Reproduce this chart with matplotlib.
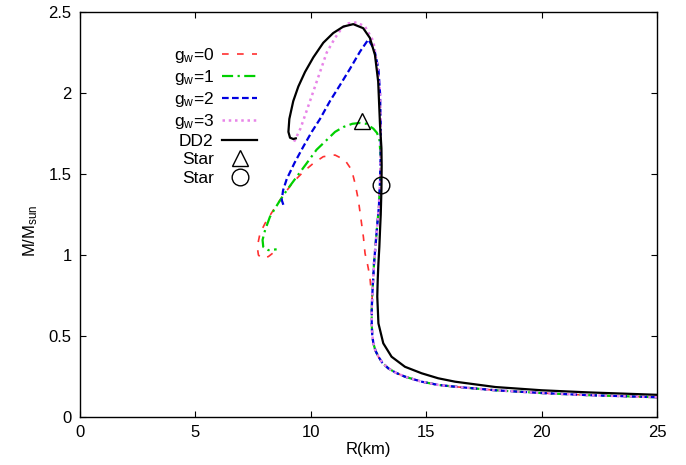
## Import necessary libraries
import matplotlib
matplotlib.use('Agg')
import matplotlib.pyplot as plt

plt.rcParams['font.family'] = ['Liberation Sans', 'DejaVu Sans']
plt.rcParams['mathtext.fontset'] = 'custom'
plt.rcParams['mathtext.rm'] = 'Liberation Sans'
plt.rcParams['mathtext.it'] = 'Liberation Sans'
plt.rcParams['mathtext.default'] = 'regular'

## Mass-radius curves (R in km, M in Msun)
## shared low-mass tail of the four g_w curves
r_tail = [25, 22, 20, 18, 16.25, 15.52, 14.8, 14.08, 13.7, 13.36, 13.1, 12.93,
          12.8, 12.71, 12.66, 12.64, 12.64, 12.66]
m_tail = [0.122, 0.135, 0.148, 0.165, 0.187, 0.198, 0.218, 0.249, 0.272, 0.30,
          0.335, 0.372, 0.41, 0.455, 0.51, 0.578, 0.66, 0.743]

r_g0 = r_tail + [12.6, 12.56, 12.46, 12.35, 12.28, 12.16, 12.06, 11.92, 11.77,
                 11.48, 11.05, 10.54, 10.11, 9.68, 9.24, 8.81, 8.38, 8.02, 7.8,
                 7.68, 7.73, 7.87, 8.16, 8.52]
m_g0 = m_tail + [0.8, 0.866, 0.94, 1.01, 1.11, 1.236, 1.34, 1.44, 1.525,
                 1.586, 1.617, 1.607, 1.566, 1.514, 1.45, 1.37, 1.278, 1.196, 1.134,
                 1.05, 1.0, 0.98, 0.99, 1.03]

r_g1 = r_tail + [12.74, 12.86, 12.95, 13.0, 13.03, 12.97, 12.86, 12.71, 12.4,
                 12.13, 11.8, 11.41, 11.05, 10.69, 10.25, 9.82, 9.39, 8.96, 8.59,
                 8.23, 8.02, 7.91, 7.94, 8.16, 8.52]
m_g1 = m_tail + [0.95, 1.154, 1.3, 1.45, 1.6, 1.72, 1.755, 1.78, 1.81,
                 1.815, 1.81, 1.79, 1.76, 1.71, 1.65, 1.566, 1.483, 1.40, 1.32,
                 1.236, 1.154, 1.093, 1.05, 1.03, 1.035]

r_g2 = r_tail + [12.74, 12.86, 12.95, 13.0, 13.03, 13.03, 13.0, 12.93, 12.75,
                 12.49, 12.13, 11.7, 11.27, 10.83, 10.4, 10.04, 9.68, 9.3, 8.96,
                 8.8, 8.74, 8.81]
m_g2 = m_tail + [0.95, 1.154, 1.3, 1.45, 1.65, 1.8, 2.0, 2.15, 2.27,
                 2.33, 2.255, 2.15, 2.05, 1.95, 1.84, 1.76, 1.67, 1.57, 1.47,
                 1.40, 1.34, 1.31]

r_g3 = r_tail + [12.74, 12.86, 12.95, 13.0, 13.03, 13.03, 13.0, 12.9, 12.71,
                 12.35, 11.99, 11.63, 11.34, 11.05, 10.69, 10.4, 10.11, 9.82, 9.55,
                 9.35, 9.2]
m_g3 = m_tail + [0.95, 1.154, 1.3, 1.45, 1.65, 1.8, 2.0, 2.15, 2.32,
                 2.41, 2.436, 2.43, 2.40, 2.34, 2.25, 2.13, 2.01, 1.89, 1.78,
                 1.72, 1.68]

r_dd2 = [25, 22, 20, 18, 16.25, 15.52, 14.8, 14.08, 13.5, 13.14, 12.93, 12.88,
         12.9, 12.93, 12.97, 13.0, 13.03, 13.06, 13.07, 13.06, 13.03, 13.0, 12.92,
         12.78, 12.56, 12.27, 11.84, 11.41, 10.97, 10.54, 10.11, 9.75, 9.46, 9.24,
         9.07, 9.03, 9.1, 9.24, 9.35]
m_dd2 = [0.137, 0.152, 0.165, 0.185, 0.218, 0.239, 0.27, 0.31, 0.372, 0.455, 0.578,
         0.743, 0.85, 0.95, 1.05, 1.154, 1.25, 1.4, 1.55, 1.66, 1.73, 1.80, 2.07,
         2.235, 2.34, 2.40, 2.425, 2.41, 2.37, 2.31, 2.22, 2.13, 2.04, 1.95,
         1.84, 1.76, 1.724, 1.716, 1.72]

## Marked stars
star_tri = (12.2, 1.83)
star_circ = (13.04, 1.43)

fig = plt.figure(figsize=(6.86, 4.65), dpi=100)
ax = fig.add_axes([80 / 686, 48 / 465, 577 / 686, 405 / 465])

ax.plot(r_g0, m_g0, color='#ff3030', lw=1.2, dashes=(4, 5), label='g$_w$=0')
ax.plot(r_g1, m_g1, color='#00d000', lw=1.6, dashes=(5, 2, 1, 2), label='g$_w$=1')
ax.plot(r_g2, m_g2, color='#0000e0', lw=1.6, dashes=(3, 1.5), label='g$_w$=2')
ax.plot(r_g3, m_g3, color='#e884e8', lw=1.8, dashes=(1, 1.5), label='g$_w$=3')
ax.plot(r_dd2, m_dd2, color='black', lw=1.6, label='DD2')
ax.plot([star_tri[0]], [star_tri[1]], ls='none', marker='^', ms=12,
        mfc='none', mec='black', mew=1.0, label='Star')
ax.plot([star_circ[0]], [star_circ[1]], ls='none', marker='o', ms=12,
        mfc='none', mec='black', mew=1.0, label='Star')

ax.set_xlim(0, 25)
ax.set_ylim(0, 2.5)
ax.set_xticks([0, 5, 10, 15, 20, 25])
ax.set_yticks([0, 0.5, 1, 1.5, 2, 2.5])
ax.set_yticklabels(['0', '0.5', '1', '1.5', '2', '2.5'])
ax.tick_params(direction='in', top=True, right=True, length=4.5, width=0.8,
               labelsize=12, pad=6)
for s in ax.spines.values():
    s.set_linewidth(1.0)

ax.set_xlabel('R(km)', fontsize=12, labelpad=1)
ax.set_ylabel('M/M$_{sun}$', fontsize=12)
ax.yaxis.set_label_coords(-0.07, 0.46)

ax.legend(loc='upper right', bbox_to_anchor=(0.307, 0.915), frameon=False,
          markerfirst=False, fontsize=12.5, handlelength=2.0, handletextpad=0.5,
          labelspacing=0.17, borderpad=0, borderaxespad=0)

fig.savefig('out.png', dpi=100)
